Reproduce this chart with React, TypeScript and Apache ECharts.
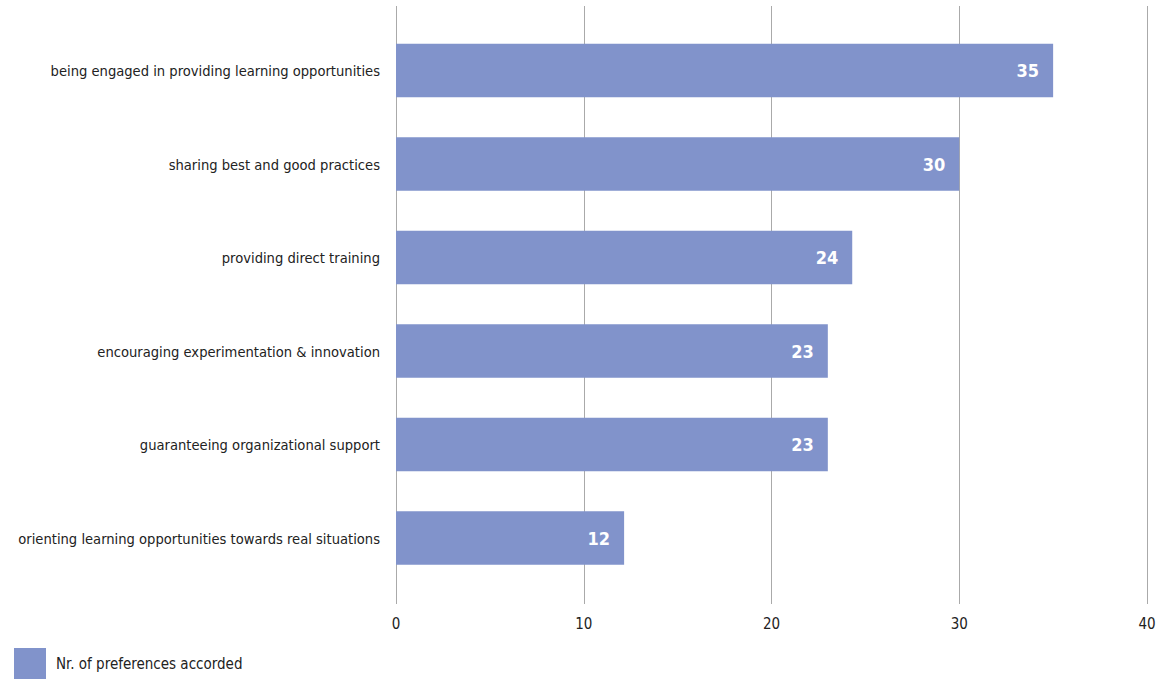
import React, { useEffect, useRef } from "react";
import * as echarts from "echarts";

const categories = [
  "being engaged in providing learning opportunities",
  "sharing best and good practices",
  "providing direct training",
  "encouraging experimentation & innovation",
  "guaranteeing organizational support",
  "orienting learning opportunities towards real situations",
];
const values = [35, 30, 24.3, 23, 23, 12.15];
const seriesName = "Nr. of preferences accorded";

const FONT = "'DejaVu Sans Condensed', 'Liberation Sans Narrow', sans-serif";

export default function App() {
  const ref = useRef<HTMLDivElement>(null);
  useEffect(() => {
    document.body.style.margin = "0";
    const chart = echarts.init(ref.current!, null, { renderer: "svg" });
    chart.setOption({
      animation: false,
      textStyle: { fontFamily: FONT },
      legend: {
        left: 14,
        top: 648,
        padding: 0,
        itemWidth: 32,
        itemHeight: 31,
        itemGap: 10,
        icon: "rect",
        data: [seriesName],
        textStyle: { fontSize: 15, color: "#222", fontFamily: FONT, padding: [22, 0, 0, 5] },
      },
      grid: [
        { left: 396, right: 16, top: 6, bottom: 79, outerBoundsMode: "none", containLabel: false },
        { left: 396, right: 16, top: 23.75, bottom: 98.25, outerBoundsMode: "none", containLabel: false },
      ],
      xAxis: [
        {
          gridIndex: 0,
          type: "value",
          min: 0,
          max: 40,
          interval: 10,
          axisLine: { show: false },
          axisTick: { show: false },
          splitLine: { show: true, lineStyle: { color: "#aaa", width: 1 } },
          axisLabel: { fontSize: 15, color: "#222", margin: 12, fontFamily: FONT },
        },
        {
          gridIndex: 1,
          type: "value",
          min: 0,
          max: 40,
          interval: 10,
          show: false,
          splitLine: { show: false },
        },
      ],
      yAxis: [
        {
          gridIndex: 0,
          type: "category",
          data: [""],
          show: false,
        },
        {
          gridIndex: 1,
          type: "category",
          inverse: true,
          data: categories,
          axisLine: { show: false },
          axisTick: { show: false },
          axisLabel: { fontSize: 14.6, color: "#222", margin: 16, fontFamily: FONT },
        },
      ],
      series: [
        {
          name: seriesName,
          type: "bar",
          xAxisIndex: 1,
          yAxisIndex: 1,
          data: values,
          barCategoryGap: "43%",
          itemStyle: { color: "#8193CB" },
          label: {
            show: true,
            position: "insideRight",
            distance: 14,
            color: "#fff",
            fontWeight: "bold",
            fontSize: 18,
            fontFamily: FONT,
            formatter: (p: any) => String(Math.round(p.value)),
          },
        },
      ],
    });
    return () => chart.dispose();
  }, []);
  return <div ref={ref} style={{ width: 1163, height: 683 }} />;
}
